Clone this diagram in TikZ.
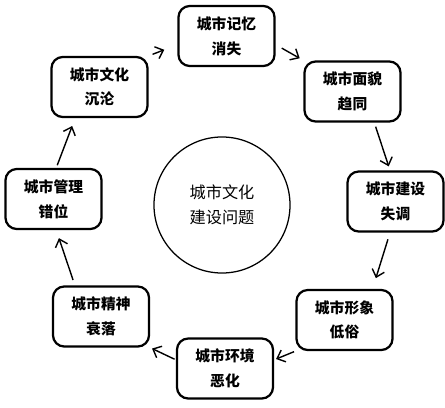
\documentclass[tikz,border=0pt]{standalone}
\usepackage{fontspec}
\newfontfamily\cjk{Noto Sans CJK SC}
\usetikzlibrary{arrows.meta}
\tikzstyle{box}=[rectangle,rounded corners=8pt,draw=black,line width=1.6pt,fill=white,minimum width=2.4cm,minimum height=1.5cm,inner sep=0pt,align=center,font=\cjk\bfseries\fontsize{10.5pt}{17.5pt}\selectfont]
\tikzstyle{hub}=[circle,draw=black,line width=0.9pt,minimum size=3.4cm,inner sep=0pt,align=center,font=\cjk\fontsize{11.5pt}{18pt}\selectfont]
\tikzstyle{arr}=[-{Straight Barb[length=5pt,width=9pt]},draw=black,line width=1pt]

\begin{document}
\begin{tikzpicture}[x=0.025cm,y=-0.025cm]
  \useasboundingbox (0,0) rectangle (445,407);
  % centre
  \node[hub] (C) at (222,205) {城市文化\\建设问题};
  % ring of problems
  \node[box] (n1) at (226.5,36) {城市记忆\\消失};
  \node[box] (n2) at (352.5,91.5) {城市面貌\\趋同};
  \node[box] (n3) at (395.5,201.5) {城市建设\\失调};
  \node[box] (n4) at (344.5,320) {城市形象\\低俗};
  \node[box] (n5) at (225,368.5) {城市环境\\恶化};
  \node[box] (n6) at (101,316.5) {城市精神\\衰落};
  \node[box] (n7) at (53.5,199) {城市管理\\错位};
  \node[box] (n8) at (99.5,87) {城市文化\\沉沦};
  % cycle
  \draw[arr,shorten <=3pt,shorten >=10pt] (n8.north east) -- (n1.190);
  \draw[arr,shorten <=5pt,shorten >=3pt] (n1.-10) -- (n2.north west);
  \draw[arr,shorten <=3pt,shorten >=3pt] (n2.-55) -- (n3.100);
  \draw[arr,shorten <=5pt,shorten >=8pt] (n3.-100) -- (n4.48);
  \draw[arr,shorten <=1pt,shorten >=1.5pt] (n4.south west) -- (n5.10);
  \draw[arr,shorten <=1pt,shorten >=1.5pt] (n5.170) -- (n6.south east);
  \draw[arr,shorten <=4pt,shorten >=6pt] (n6.130) -- (n7.-85);
  \draw[arr,shorten <=2pt,shorten >=6pt] (n7.85) -- (n8.-128);
\end{tikzpicture}
\end{document}
